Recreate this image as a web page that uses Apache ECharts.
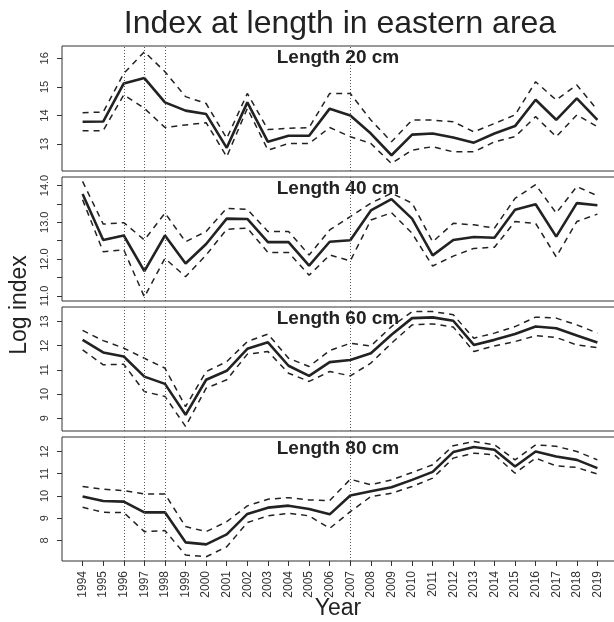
<!DOCTYPE html>
<html>
<head>
<meta charset="utf-8">
<script src="https://cdn.jsdelivr.net/npm/echarts@6/dist/echarts.min.js"></script>
<style>
  html, body { margin: 0; padding: 0; background: #fff; }
  #chart { width: 614px; height: 622px; }
</style>
</head>
<body>
<div id="chart"></div>
<script>
const years = [1994, 1995, 1996, 1997, 1998, 1999, 2000, 2001, 2002, 2003, 2004, 2005, 2006,
  2007, 2008, 2009, 2010, 2011, 2012, 2013, 2014, 2015, 2016, 2017, 2018, 2019]
const markYears = [1996, 1997, 1998, 2007]
const panelNames = ['Length 20 cm', 'Length 40 cm', 'Length 60 cm', 'Length 80 cm']

// estimate, upper and lower bounds per length class
const est20 = [13.78, 13.79, 15.12, 15.31, 14.46, 14.17, 14.05, 12.87, 14.46, 13.08, 13.29, 13.29, 14.24,
  14.0, 13.37, 12.61, 13.33, 13.37, 13.23, 13.05, 13.37, 13.63, 14.55, 13.85, 14.6, 13.85]
const up20 = [14.1, 14.12, 15.47, 16.23, 15.53, 14.66, 14.42, 13.2, 14.77, 13.51, 13.55, 13.58, 14.77,
  14.77, 13.84, 13.08, 13.84, 13.84, 13.78, 13.43, 13.72, 14.02, 15.18, 14.54, 15.07, 14.19]
const lo20 = [13.47, 13.47, 14.72, 14.25, 13.58, 13.67, 13.75, 12.56, 14.25, 12.79, 13.02, 13.02, 13.58,
  13.26, 13.02, 12.32, 12.79, 12.91, 12.73, 12.73, 13.08, 13.26, 13.96, 13.26, 14.02, 13.61]

const est40 = [13.77, 12.52, 12.64, 11.67, 12.64, 11.88, 12.41, 13.1, 13.09, 12.46, 12.46, 11.82, 12.47,
  12.51, 13.32, 13.63, 13.1, 12.1, 12.52, 12.6, 12.58, 13.34, 13.49, 12.61, 13.52, 13.46]
const up40 = [14.11, 12.95, 12.99, 12.52, 13.25, 12.47, 12.75, 13.38, 13.35, 12.75, 12.75, 12.11, 12.79,
  13.15, 13.52, 13.79, 13.52, 12.47, 12.97, 12.93, 12.84, 13.65, 14.02, 13.25, 13.97, 13.72]
const lo40 = [13.61, 12.2, 12.25, 10.97, 12.02, 11.52, 12.11, 12.81, 12.84, 12.18, 12.18, 11.56, 12.11,
  11.95, 13.06, 13.26, 12.7, 11.81, 12.08, 12.29, 12.32, 13.02, 12.97, 12.06, 13.02, 13.22]

const est60 = [12.24, 11.72, 11.55, 10.72, 10.42, 9.14, 10.59, 10.96, 11.87, 12.14, 11.17, 10.75, 11.32,
  11.41, 11.69, 12.45, 13.14, 13.17, 13.03, 12.03, 12.24, 12.48, 12.79, 12.72, 12.42, 12.13]
const up60 = [12.63, 12.21, 11.9, 11.48, 11.07, 9.48, 10.93, 11.34, 12.17, 12.48, 11.48, 11.14, 11.8,
  12.1, 11.99, 12.79, 13.41, 13.41, 13.28, 12.31, 12.52, 12.79, 13.18, 13.14, 12.86, 12.52]
const lo60 = [11.83, 11.21, 11.23, 10.1, 9.9, 8.66, 10.24, 10.59, 11.65, 11.76, 10.86, 10.52, 10.93,
  10.75, 11.28, 12.1, 12.86, 12.9, 12.77, 11.76, 11.99, 12.17, 12.41, 12.34, 12.03, 11.92]

const est80 = [9.97, 9.77, 9.74, 9.26, 9.26, 7.91, 7.82, 8.27, 9.19, 9.47, 9.56, 9.41, 9.17,
  10.02, 10.21, 10.39, 10.72, 11.08, 11.97, 12.2, 12.08, 11.32, 12.0, 11.77, 11.62, 11.25]
const up80 = [10.42, 10.3, 10.24, 10.09, 10.08, 8.62, 8.39, 8.84, 9.55, 9.85, 9.92, 9.82, 9.79,
  10.75, 10.5, 10.72, 11.05, 11.4, 12.26, 12.45, 12.3, 11.62, 12.3, 12.23, 12.0, 11.62]
const lo80 = [9.49, 9.26, 9.25, 8.39, 8.44, 7.34, 7.26, 7.71, 8.8, 9.1, 9.22, 9.1, 8.54,
  9.29, 9.97, 10.12, 10.42, 10.8, 11.7, 11.92, 11.85, 11.02, 11.7, 11.35, 11.28, 10.98]

// y tick values and labels per panel
const yTicks20 = [13, 14, 15, 16]
const yTicks40 = [11, 11.5, 12, 12.5, 13, 13.5, 14]
const yLabels40 = [11, 12, 13, 14]
const yTicks60 = [9, 10, 11, 12, 13]
const yTicks80 = [8, 9, 10, 11, 12]
const yRanges = [[12.06, 16.43], [10.86, 14.23], [8.47, 13.6], [7.07, 12.65]]

const panels = [
  { est: est20, up: up20, lo: lo20, ticks: yTicks20, labels: yTicks20, fmt: v => String(v) },
  { est: est40, up: up40, lo: lo40, ticks: yTicks40, labels: yLabels40, fmt: v => v.toFixed(1) },
  { est: est60, up: up60, lo: lo60, ticks: yTicks60, labels: yTicks60, fmt: v => String(v) },
  { est: est80, up: up80, lo: lo80, ticks: yTicks80, labels: yTicks80, fmt: v => String(v) }
]

const gridTops = [46, 177, 307, 437]
const gridHeights = [125, 124, 124, 124]
const ink = '#222'
const font = 'Liberation Sans, Arial, sans-serif'

const chart = echarts.init(document.getElementById('chart'))

const grids = [], xAxes = [], yAxes = [], series = [], graphics = []

panels.forEach((p, i) => {
  // plot box runs past the right edge of the picture, like the original
  grids.push({
    left: 62, width: 556, top: gridTops[i], height: gridHeights[i],
    outerBoundsMode: 'none', containLabel: false,
    show: true, borderColor: '#333', borderWidth: 1, backgroundColor: 'transparent'
  })
  const last = i === panels.length - 1
  xAxes.push({
    type: 'value', gridIndex: i, min: 1993, max: 2020,
    axisLine: { show: false },
    splitLine: { show: false },
    axisTick: { show: last, length: 5, lineStyle: { color: '#333' }, customValues: years },
    axisLabel: {
      show: last, rotate: 90, margin: 10, fontSize: 12, color: '#333', fontFamily: font,
      customValues: years, formatter: v => String(v)
    }
  })
  yAxes.push({
    type: 'value', gridIndex: i, min: yRanges[i][0], max: yRanges[i][1],
    axisLine: { show: false },
    splitLine: { show: false },
    axisTick: { show: true, length: 5, lineStyle: { color: '#333' }, customValues: p.ticks },
    axisLabel: {
      rotate: 90, margin: 12, fontSize: 11, color: '#333', fontFamily: font,
      customValues: p.labels, formatter: p.fmt
    }
  })
  const pts = arr => years.map((y, k) => [y, arr[k]])
  series.push({
    type: 'line', xAxisIndex: i, yAxisIndex: i, data: pts(p.est),
    symbol: 'none', lineStyle: { color: ink, width: 2.6 }, silent: true, z: 3,
    markLine: {
      silent: true, symbol: 'none', label: { show: false },
      lineStyle: { type: [1, 2], color: '#555', width: 1 },
      data: markYears.map(y => ({ xAxis: y }))
    }
  })
  ;[p.up, p.lo].forEach(arr => {
    series.push({
      type: 'line', xAxisIndex: i, yAxisIndex: i, data: pts(arr),
      symbol: 'none', lineStyle: { color: ink, width: 1.5, type: [6, 5] }, silent: true
    })
  })
  graphics.push({
    type: 'text', x: 338, y: gridTops[i] + 2,
    style: { text: panelNames[i], font: 'bold 19px ' + font, fill: ink, textAlign: 'center', textVerticalAlign: 'top' }
  })
})

chart.setOption({
  animation: false,
  title: {
    text: 'Index at length in eastern area', left: 335, top: 3, textAlign: 'center',
    textStyle: { fontSize: 32, fontWeight: 'normal', color: ink, fontFamily: font }
  },
  grid: grids,
  xAxis: xAxes,
  yAxis: yAxes,
  series: series,
  graphic: graphics.concat([
    {
      type: 'text', x: 338, y: 597,
      style: { text: 'Year', font: '23px ' + font, fill: ink, textAlign: 'center', textVerticalAlign: 'top' }
    },
    {
      type: 'text', x: 8, y: 305, rotation: Math.PI / 2,
      style: { text: 'Log index', font: '23px ' + font, fill: ink, textAlign: 'center', textVerticalAlign: 'top' }
    }
  ])
})
</script>
</body>
</html>
